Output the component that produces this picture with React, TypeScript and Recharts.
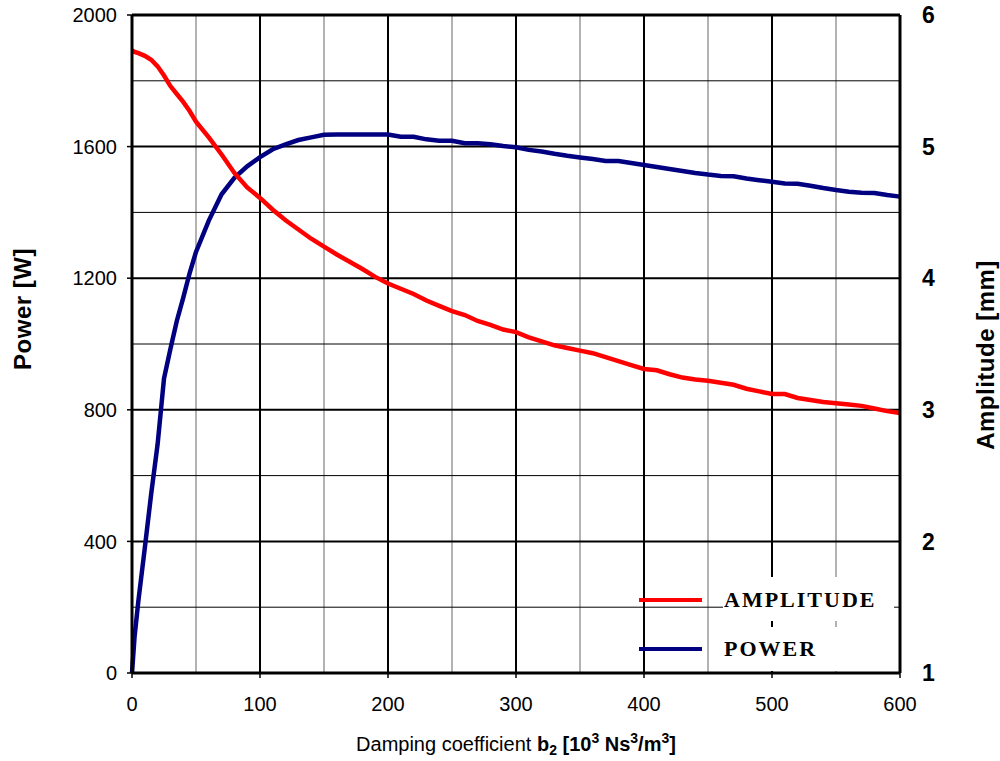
import React from 'react';
import { LineChart, Line, XAxis, YAxis, CartesianGrid, Legend } from 'recharts';

const b2 = [0, 2, 5, 10, 15, 20, 25, 30, 35, 40, 45, 50, 60, 70, 80, 90, 100, 110, 120, 130, 140, 150, 160, 170, 180, 190, 200, 210, 220, 230, 240, 250, 260, 270, 280, 290, 300, 310, 320, 330, 340, 350, 360, 370, 380, 390, 400, 410, 420, 430, 440, 450, 460, 470, 480, 490, 500, 510, 520, 530, 540, 550, 560, 570, 580, 590, 600];

const power = [0, 110, 220, 380, 545, 695, 895, 985, 1070, 1140, 1215, 1280, 1375, 1455, 1505, 1540, 1568, 1592, 1607, 1620, 1628, 1636, 1637, 1637, 1637, 1637, 1637, 1630, 1630, 1622, 1618, 1618, 1610, 1610, 1607, 1602, 1598, 1590, 1585, 1578, 1572, 1567, 1562, 1556, 1556, 1550, 1544, 1538, 1532, 1526, 1520, 1515, 1511, 1510, 1503, 1498, 1493, 1488, 1487, 1481, 1474, 1468, 1463, 1460, 1459, 1453, 1448];

const amplitude = [5.73, 5.72, 5.71, 5.69, 5.66, 5.61, 5.54, 5.46, 5.4, 5.34, 5.27, 5.19, 5.07, 4.94, 4.8, 4.69, 4.61, 4.52, 4.44, 4.37, 4.3, 4.24, 4.18, 4.125, 4.07, 4.01, 3.96, 3.92, 3.88, 3.83, 3.79, 3.75, 3.72, 3.675, 3.645, 3.61, 3.59, 3.55, 3.52, 3.49, 3.47, 3.45, 3.43, 3.4, 3.37, 3.34, 3.31, 3.3, 3.27, 3.245, 3.23, 3.22, 3.205, 3.19, 3.16, 3.14, 3.12, 3.12, 3.09, 3.075, 3.06, 3.05, 3.04, 3.03, 3.01, 2.99, 2.975];

const xTicks = [0, 100, 200, 300, 400, 500, 600];
const leftTicks = [0, 400, 800, 1200, 1600, 2000];
const rightTicks = [1, 2, 3, 4, 5, 6];
const minorX = [50, 150, 250, 350, 450, 550];
const majorX = [100, 200, 300, 400, 500];
const minorY = [200, 600, 1000, 1400, 1800];
const majorY = [400, 800, 1200, 1600];
const topY = [2000];

const legendItems = [
  { name: 'AMPLITUDE', color: '#FF0000' },
  { name: 'POWER', color: '#000080' },
];

const data = b2.map((b, i) => ({ b2: b, power: power[i], amplitude: amplitude[i] }));

const FONT = '"Liberation Sans", Arial, sans-serif';

const LegendBox = () => (
  <div style={{ position: 'relative', width: 290, height: 105 }}>
    {legendItems.map((it, i) => (
      <React.Fragment key={it.name}>
        <div style={{ position: 'absolute', left: 19, top: 28 + i * 49, width: 63, height: 4, background: it.color }} />
        <div
          style={{
            position: 'absolute',
            left: 103,
            top: 7 + i * 50,
            width: 171,
            height: 44,
            background: '#fff',
          }}
        />
        <div
          style={{
            position: 'absolute',
            left: 104,
            top: 17 + i * 49,
            fontFamily: '"Liberation Serif", "Times New Roman", serif',
            fontWeight: 'bold',
            fontSize: 22,
            letterSpacing: 2,
            lineHeight: '26px',
            color: '#000',
            whiteSpace: 'nowrap',
          }}
        >
          {it.name}
        </div>
      </React.Fragment>
    ))}
  </div>
);

const XTitle = (props: any) => {
  const vb = props.viewBox || {};
  const cx = vb.x + vb.width / 2;
  const y = vb.y + 78;
  return (
    <text x={cx} y={y} textAnchor="middle" fontFamily={FONT} fontSize={20} fill="#000">
      <tspan>Damping coefficient </tspan>
      <tspan fontWeight="bold">b</tspan>
      <tspan fontWeight="bold" fontSize={14} dy={4}>2</tspan>
      <tspan fontWeight="bold" dy={-4}> [10</tspan>
      <tspan fontWeight="bold" fontSize={14} dy={-8}>3</tspan>
      <tspan fontWeight="bold" dy={8}> Ns</tspan>
      <tspan fontWeight="bold" fontSize={14} dy={-8}>3</tspan>
      <tspan fontWeight="bold" dy={8}>/m</tspan>
      <tspan fontWeight="bold" fontSize={14} dy={-8}>3</tspan>
      <tspan fontWeight="bold" dy={8}>]</tspan>
    </text>
  );
};

const LeftTitle = (props: any) => {
  const vb = props.viewBox || {};
  const x = vb.x + 22;
  const y = vb.y + 294;
  return (
    <text x={x} y={y} transform={`rotate(-90 ${x} ${y})`} textAnchor="middle" dominantBaseline="central" fontFamily={FONT} fontWeight="bold" fontSize={24} letterSpacing={0.5} fill="#000">
      Power [W]
    </text>
  );
};

const RightTitle = (props: any) => {
  const vb = props.viewBox || {};
  const x = vb.x + 85;
  const y = vb.y + 340;
  return (
    <text x={x} y={y} transform={`rotate(-90 ${x} ${y})`} textAnchor="middle" dominantBaseline="central" fontFamily={FONT} fontWeight="bold" fontSize={24} letterSpacing={0.5} fill="#000">
      Amplitude [mm]
    </text>
  );
};

export default function App() {
  return (
    <div style={{ position: 'absolute', left: 0, top: 0, width: 1000, height: 761, background: '#fff' }}>
      <LineChart width={1000} height={761} data={data} margin={{ top: 15, right: 0, bottom: 0, left: 0 }}>
        <CartesianGrid yAxisId="left" horizontal={false} verticalValues={minorX} stroke="#666" strokeWidth={1} />
        <CartesianGrid yAxisId="left" horizontal={false} verticalValues={majorX} stroke="#000" strokeWidth={2} />
        <CartesianGrid yAxisId="left" vertical={false} horizontalValues={minorY} stroke="#000" strokeWidth={1} />
        <CartesianGrid yAxisId="left" vertical={false} horizontalValues={majorY} stroke="#000" strokeWidth={2} />
        <CartesianGrid yAxisId="left" vertical={false} horizontalValues={topY} stroke="#000" strokeWidth={3} />
        <XAxis
          dataKey="b2"
          type="number"
          domain={[0, 600]}
          ticks={xTicks}
          height={88}
          axisLine={{ stroke: '#000', strokeWidth: 3 }}
          tickLine={{ stroke: '#000', strokeWidth: 1.5 }}
          tickSize={5}
          tickMargin={19}
          tick={{ fill: '#000', fontSize: 20, fontFamily: FONT }}
          label={<XTitle />}
        />
        <YAxis
          yAxisId="left"
          orientation="left"
          domain={[0, 2000]}
          ticks={leftTicks}
          width={132}
          axisLine={{ stroke: '#000', strokeWidth: 3 }}
          tickLine={{ stroke: '#000', strokeWidth: 1.5 }}
          tickSize={5}
          tickMargin={10}
          tick={{ fill: '#000', fontSize: 20, fontFamily: FONT }}
          label={<LeftTitle />}
        />
        <YAxis
          yAxisId="right"
          orientation="right"
          domain={[1, 6]}
          ticks={rightTicks}
          width={100}
          axisLine={{ stroke: '#000', strokeWidth: 3 }}
          tickLine={false}
          tickSize={6}
          tickMargin={16}
          tick={{ fill: '#000', fontSize: 23, fontWeight: 'bold', fontFamily: FONT }}
          label={<RightTitle />}
        />
        <Line yAxisId="left" type="linear" dataKey="power" name="POWER" stroke="#000080" strokeWidth={4.5} dot={false} isAnimationActive={false} />
        <Line yAxisId="right" type="linear" dataKey="amplitude" name="AMPLITUDE" stroke="#FF0000" strokeWidth={4.5} dot={false} isAnimationActive={false} />
        <Legend
          layout="horizontal"
          verticalAlign="middle"
          align="center"
          content={<LegendBox />}
          wrapperStyle={{ left: 620, top: 570, width: 290, height: 105 }}
        />
      </LineChart>
    </div>
  );
}
